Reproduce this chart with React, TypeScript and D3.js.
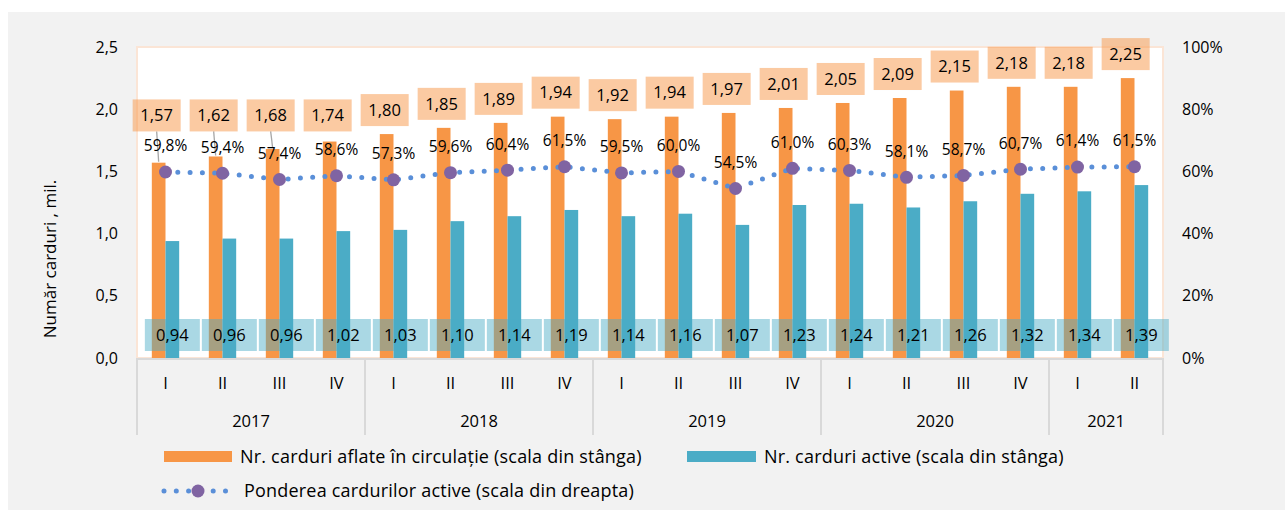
import React from "react";
import * as d3 from "d3";

const quarters = ["I","II","III","IV","I","II","III","IV","I","II","III","IV","I","II","III","IV","I","II"];
const years = ["2017","2018","2019","2020","2021"];
const yearCounts = [4,4,4,4,2];
const circulation = [1.57,1.62,1.68,1.74,1.80,1.85,1.89,1.94,1.92,1.94,1.97,2.01,2.05,2.09,2.15,2.18,2.18,2.25];
const active = [0.94,0.96,0.96,1.02,1.03,1.10,1.14,1.19,1.14,1.16,1.07,1.23,1.24,1.21,1.26,1.32,1.34,1.39];
const share = [59.8,59.4,57.4,58.6,57.3,59.6,60.4,61.5,59.5,60.0,54.5,61.0,60.3,58.1,58.7,60.7,61.4,61.5];
const leftTicks = [0,0.5,1,1.5,2,2.5];
const rightTicks = [0,20,40,60,80,100];

const W = 1285, H = 510;
const L = 137, R = 1163, T = 47, B = 358;
const ORANGE = "#f79646", TEAL = "#4bacc6", PURPLE = "#8064a2", BLUE = "#5a8fd8";
const FONT = "'Open Sans', Lato, sans-serif";

const fmt = (v: number, d: number) => v.toFixed(d).replace(".", ",");

export default function App() {
  const idx = quarters.map((_, i) => i);
  const x = d3.scaleBand<number>().domain(idx).range([L, R]).padding(0);
  const y = d3.scaleLinear().domain([0, 2.5]).range([B, T]);
  const y2 = d3.scaleLinear().domain([0, 100]).range([B, T]);
  const bw = x.bandwidth() * 0.24;
  const cx = (i: number) => (x(i) as number) + x.bandwidth() / 2;

  const line = d3.line<number>().x((_, i) => cx(i)).y((d) => y2(d));

  let acc = 0;
  const groups = years.map((yr, g) => {
    const start = acc;
    acc += yearCounts[g];
    return { yr, start, end: acc };
  });
  const bx = (k: number) => (k < quarters.length ? (x(k) as number) : R);

  const capY = y(1.95);

  return (
    <svg width={W} height={H} style={{ position: "absolute", left: 0, top: 0 }} fontFamily={FONT}>
      <rect x={0} y={0} width={W} height={H} fill="#ffffff" />
      <rect x={8} y={12} width={W - 8} height={H - 12} fill="#f2f2f2" />
      <rect x={L} y={T} width={R - L} height={B - T} fill="#ffffff" stroke="#fbe5d6" strokeWidth={2} />

      {leftTicks.map((t) => (
        <text key={"l" + t} x={118} y={y(t)} dy="0.35em" textAnchor="end" fontSize={16} fill="#000">
          {fmt(t, 1)}
        </text>
      ))}
      {rightTicks.map((t) => (
        <text key={"r" + t} x={1182} y={y2(t)} dy="0.35em" textAnchor="start" fontSize={16} fill="#000">
          {t + "%"}
        </text>
      ))}
      <text transform={`translate(50,259) rotate(-90)`} textAnchor="middle" dy="0.35em" fontSize={17} fill="#000">
        Număr carduri , mil.
      </text>

      {circulation.map((v, i) => (
        <rect key={"o" + i} x={cx(i) - bw} y={y(v)} width={bw} height={B - y(v)} fill={ORANGE} />
      ))}
      {active.map((v, i) => (
        <rect key={"t" + i} x={cx(i)} y={y(v)} width={bw} height={B - y(v)} fill={TEAL} />
      ))}

      {active.map((v, i) => {
        const lx = cx(i) + bw / 2;
        const ly = y(0) - 23;
        return (
          <g key={"tl" + i}>
            <rect x={lx - 27.5} y={ly - 16} width={55} height={32} fill={TEAL} fillOpacity={0.47} />
            <text x={lx} y={ly} dy="0.35em" textAnchor="middle" fontSize={16.5} fill="#000">
              {fmt(v, 2)}
            </text>
          </g>
        );
      })}

      <line x1={L} x2={R} y1={B + 1} y2={B + 1} stroke="#d9d9d9" strokeWidth={2} />
      {groups.map((g) => (
        <line key={"s" + g.yr} x1={bx(g.start)} x2={bx(g.start)} y1={B} y2={435} stroke="#d9d9d9" strokeWidth={2} />
      ))}
      <line x1={R} x2={R} y1={B} y2={435} stroke="#d9d9d9" strokeWidth={2} />
      {quarters.map((q, i) => (
        <text key={"q" + i} x={cx(i)} y={383} dy="0.35em" textAnchor="middle" fontSize={16.5} fill="#000">
          {q}
        </text>
      ))}
      {groups.map((g) => (
        <text key={"y" + g.yr} x={(bx(g.start) + bx(g.end)) / 2} y={421} dy="0.35em" textAnchor="middle" fontSize={16.5} fill="#000">
          {g.yr}
        </text>
      ))}

      <path d={line(share) || ""} fill="none" stroke={BLUE} strokeWidth={5} strokeDasharray="0 12.3" strokeLinecap="round" />
      {share.map((v, i) => (
        <circle key={"c" + i} cx={cx(i)} cy={y2(v)} r={6.5} fill={PURPLE} />
      ))}

      {circulation.map((v, i) => {
        const lx = cx(i) - bw / 2 - 2;
        const natural = y(v) - 24;
        const ly = Math.min(natural, capY);
        const moved = natural > capY + 4;
        return (
          <g key={"ol" + i}>
            {moved && <line x1={lx} x2={lx + 2} y1={ly + 16} y2={y(v) - 1} stroke="#a6a6a6" strokeWidth={1.3} />}
            <rect x={lx - 24} y={ly - 16} width={48} height={32} fill={ORANGE} fillOpacity={0.5} />
            <text x={lx} y={ly} dy="0.35em" textAnchor="middle" fontSize={16.5} fill="#000">
              {fmt(v, 2)}
            </text>
          </g>
        );
      })}

      {share.map((v, i) => (
        <text key={"sl" + i} x={cx(i)} y={y2(v) - 26} dy="0.35em" textAnchor="middle" fontSize={15.5} fill="#000">
          {fmt(v, 1) + "%"}
        </text>
      ))}

      <rect x={164} y={451} width={68} height={11} fill={ORANGE} />
      <text x={240} y={456.5} dy="0.35em" fontSize={18} letterSpacing={0.2} fill="#000">Nr. carduri aflate în circulație (scala din stânga)</text>
      <rect x={687} y={451} width={69} height={11} fill={TEAL} />
      <text x={764} y={456.5} dy="0.35em" fontSize={18} letterSpacing={0.2} fill="#000">Nr. carduri active (scala din stânga)</text>
      <line x1={164} x2={228} y1={491} y2={491} stroke={BLUE} strokeWidth={5} strokeDasharray="0 12.3" strokeLinecap="round" />
      <circle cx={198} cy={491} r={6.5} fill={PURPLE} />
      <text x={244} y={491} dy="0.35em" fontSize={18} letterSpacing={0.2} fill="#000">Ponderea cardurilor active (scala din dreapta)</text>
    </svg>
  );
}
